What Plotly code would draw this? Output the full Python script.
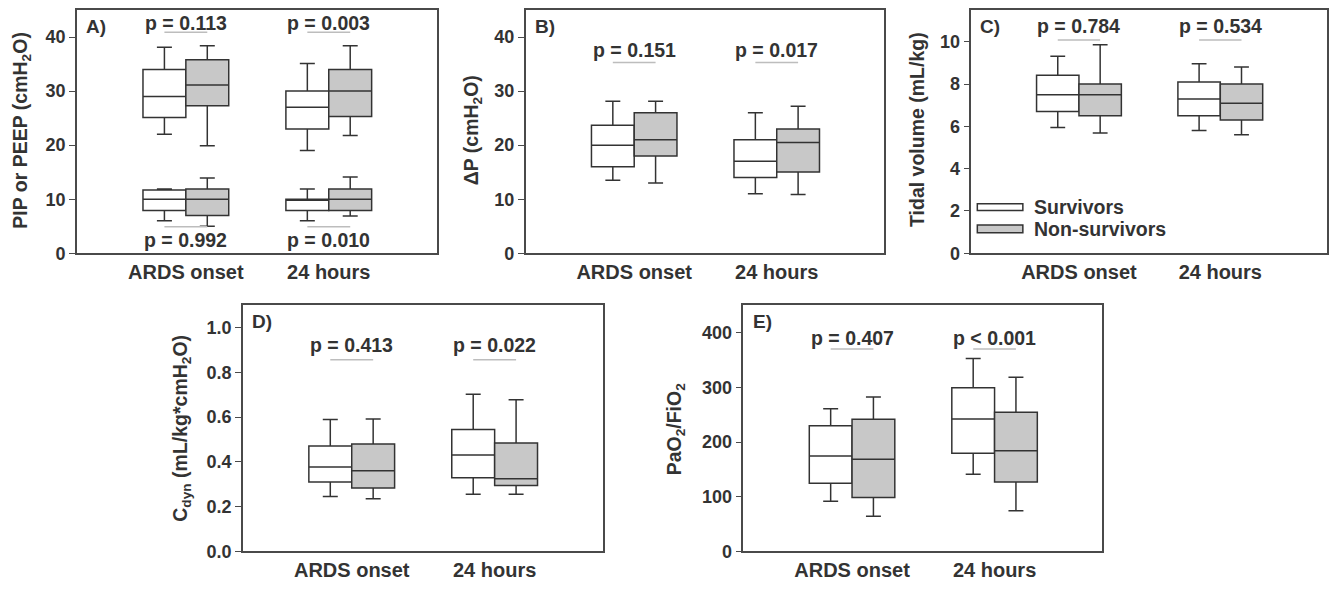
import plotly.graph_objects as go

# ---------------- data ----------------
categories = ["ARDS onset", "24 hours"]
groups = ["Survivors", "Non-survivors"]

# five-number summaries per category: [lower whisker, Q1, median, Q3, upper whisker]
pip_surv = [[22.0, 25.1, 29.0, 34.0, 38.1], [19.0, 23.0, 27.0, 30.0, 35.1]]
pip_non = [[19.9, 27.3, 31.1, 35.8, 38.4], [21.8, 25.3, 30.0, 34.0, 38.4]]
peep_surv = [[6.0, 7.9, 10.0, 11.7, 11.9], [6.0, 7.9, 10.0, 10.0, 11.9]]
peep_non = [[5.0, 7.0, 10.0, 11.9, 13.9], [6.9, 7.9, 10.0, 11.9, 14.1]]

dp_surv = [[13.5, 16.0, 20.0, 23.7, 28.1], [11.0, 14.0, 17.0, 21.0, 26.0]]
dp_non = [[13.0, 18.0, 21.0, 26.0, 28.1], [10.85, 15.05, 20.5, 23.0, 27.2]]

vt_surv = [[5.95, 6.70, 7.49, 8.41, 9.31], [5.80, 6.50, 7.29, 8.09, 8.96]]
vt_non = [[5.69, 6.50, 7.49, 8.00, 9.86], [5.60, 6.30, 7.09, 8.00, 8.81]]

cdyn_surv = [[0.246, 0.310, 0.377, 0.471, 0.589], [0.256, 0.329, 0.431, 0.545, 0.702]]
cdyn_non = [[0.235, 0.284, 0.361, 0.480, 0.592], [0.256, 0.295, 0.325, 0.484, 0.678]]

pf_surv = [[91.8, 124.7, 174.5, 229.7, 260.9], [140.9, 179.3, 242.3, 299.3, 352.6]]
pf_non = [[64.2, 98.4, 168.5, 241.7, 282.5], [74.4, 127.1, 184.1, 254.3, 318.4]]

p_A_top = ["p = 0.113", "p = 0.003"]
p_A_bottom = ["p = 0.992", "p = 0.010"]
p_B = ["p = 0.151", "p = 0.017"]
p_C = ["p = 0.784", "p = 0.534"]
p_D = ["p = 0.413", "p = 0.022"]
p_E = ["p = 0.407", "p < 0.001"]

# ---------------- style ----------------
FONT = "Liberation Sans, Arial, Helvetica, sans-serif"
INK = "#333333"
FRAME = "#4a4a4a"
FILL = ["#ffffff", "#c8c8c8"]
PLINE = "#bdbdbd"
OFF = 8  # default page (body) margin of the html page, on every side
W, H = 1337 - 2 * OFF, 593 - 2 * OFF
BOXGAP = 0.4
HALF_OFF = (1 - BOXGAP) / 4  # centre of each box relative to category


def fx(px):
    return min((px - OFF) / W, (W - 1) / W)


def fy(py):
    return min(1 - (py - OFF) / H, (H - 1) / H)


fig = go.Figure()


def add_boxes(stats_s, stats_n, ax):
    for stats, name, fill, og in [(stats_s, groups[0], FILL[0], "S"), (stats_n, groups[1], FILL[1], "N")]:
        fig.add_trace(go.Box(
            x=categories,
            lowerfence=[s[0] for s in stats],
            q1=[s[1] for s in stats],
            median=[s[2] for s in stats],
            q3=[s[3] for s in stats],
            upperfence=[s[4] for s in stats],
            name=name, fillcolor=fill,
            line=dict(color=INK, width=1.5),
            whiskerwidth=0.35, boxpoints=False,
            offsetgroup=og, alignmentgroup="g" + ax,
            xaxis="x" + ax, yaxis="y" + ax,
            showlegend=False, hoverinfo="skip",
        ))


# panel frames in page pixels: (left, right, top, bottom)
panels = {
    "": (77, 437, 7, 257),
    "2": (526, 885, 7, 257),
    "3": (972, 1330, 7, 257),
    "4": (243, 603, 310, 561),
    "5": (744, 1103, 310, 561),
}
yranges = {"": [0, 45], "2": [0, 45], "3": [0, 11.5], "4": [0, 1.1], "5": [0, 450]}
dticks = {"": 10, "2": 10, "3": 2, "4": 0.2, "5": 100}
tickfmt = {"": "", "2": "", "3": "", "4": ".1f", "5": ""}

add_boxes(pip_surv, pip_non, "")
add_boxes(peep_surv, peep_non, "")
add_boxes(dp_surv, dp_non, "2")
add_boxes(vt_surv, vt_non, "3")
add_boxes(cdyn_surv, cdyn_non, "4")
add_boxes(pf_surv, pf_non, "5")

layout = dict(
    width=W, height=H, margin=dict(l=0, r=0, t=0, b=0),
    paper_bgcolor="white", plot_bgcolor="white",
    boxmode="group", boxgap=BOXGAP, boxgroupgap=0,
    font=dict(family=FONT, color=INK), showlegend=False,
)

for ax, (l, r, t, b) in panels.items():
    layout["xaxis" + ax] = dict(
        domain=[fx(l), fx(r)], anchor="y" + ax, type="category",
        categoryorder="array", categoryarray=categories,
        range=[-0.762, 1.755], showline=True, mirror=True,
        linecolor=FRAME, linewidth=1.5, ticks="", showgrid=False, zeroline=False,
        tickfont=dict(size=20, family=FONT, color=INK, weight="bold"),
    )
    layout["yaxis" + ax] = dict(
        domain=[fy(b), fy(t)], anchor="x" + ax,
        range=yranges[ax], dtick=dticks[ax], tick0=0, tickformat=tickfmt[ax],
        showline=True, mirror=True, linecolor=FRAME, linewidth=1.5,
        ticks="outside", ticklen=6, tickwidth=1.2, tickcolor=FRAME,
        showgrid=False, zeroline=False,
        tickfont=dict(size=18, family=FONT, color=INK, weight="bold"),
    )

fig.update_layout(**layout)

annotations = []
shapes = []


def add_pvals(ax, texts, y_text, y_line):
    for i, txt in enumerate(texts):
        annotations.append(dict(
            x=i, y=y_text, xref="x" + ax, yref="y" + ax, text="<b>" + txt + "</b>",
            showarrow=False, font=dict(size=19.5, family=FONT, color=INK),
            xanchor="center", yanchor="middle",
        ))
        shapes.append(dict(
            type="line", xref="x" + ax, yref="y" + ax,
            x0=i - HALF_OFF, x1=i + HALF_OFF, y0=y_line, y1=y_line,
            line=dict(color=PLINE, width=1.5),
        ))


add_pvals("", p_A_top, 42.6, 40.9)
add_pvals("", p_A_bottom, 2.5, 4.9)
add_pvals("2", p_B, 37.6, 35.3)
add_pvals("3", p_C, 10.76, 10.08)
add_pvals("4", p_D, 0.921, 0.857)
add_pvals("5", p_E, 391, 370)

# panel letters
for ax, letter in zip(["", "2", "3", "4", "5"], ["A)", "B)", "C)", "D)", "E)"]):
    xd = "x domain" if ax == "" else "x%s domain" % ax
    yd = "y domain" if ax == "" else "y%s domain" % ax
    annotations.append(dict(
        x=0.02, y=0.985, xref=xd, yref=yd, text="<b>" + letter + "</b>",
        showarrow=False, xanchor="left", yanchor="top",
        font=dict(size=19, family=FONT, color=INK),
    ))

# y-axis titles (page pixel centres)
ytitles = [
    ("PIP or PEEP (cmH<sub>2</sub>O)", 22, 131),
    ("ΔP (cmH<sub>2</sub>O)", 473, 132),
    ("Tidal volume (mL/kg)", 917, 131),
    ("C<sub>dyn</sub> (mL/kg*cmH<sub>2</sub>O)", 182, 435),
    ("PaO<sub>2</sub>/FiO<sub>2</sub>", 676, 436),
]
for txt, px, py in ytitles:
    annotations.append(dict(
        x=fx(px), y=fy(py), xref="paper", yref="paper",
        text="<b>" + txt + "</b>", textangle=-90, showarrow=False,
        xanchor="center", yanchor="middle",
        font=dict(size=19.5, family=FONT, color=INK),
    ))

# legend (panel C)
leg_rows = [(FILL[0], groups[0], 0.204, 0.176), (FILL[1], groups[1], 0.116, 0.084)]
for fill, name, y1, y0 in leg_rows:
    shapes.append(dict(
        type="rect", xref="x3 domain", yref="y3 domain",
        x0=0.017, x1=0.145, y0=y0, y1=y1,
        fillcolor=fill, line=dict(color=INK, width=1.5),
    ))
    annotations.append(dict(
        x=0.172, y=(y0 + y1) / 2, xref="x3 domain", yref="y3 domain",
        text="<b>" + name + "</b>", showarrow=False,
        xanchor="left", yanchor="middle",
        font=dict(size=19.5, family=FONT, color=INK),
    ))

fig.update_layout(annotations=annotations, shapes=shapes)
fig.write_html("out.html")
